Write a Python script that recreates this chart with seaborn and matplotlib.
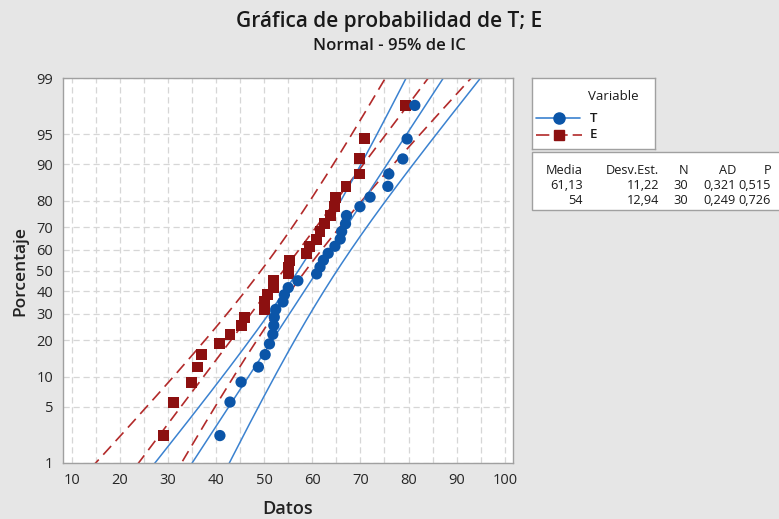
import numpy as np
import pandas as pd
import matplotlib
matplotlib.use("Agg")
import matplotlib.pyplot as plt
from matplotlib.patches import Rectangle
import seaborn as sns
from statistics import NormalDist

# valores (ordenados)
T_vals = [40.8, 42.9, 45.2, 48.8, 50.2, 51.1, 51.8, 52.0, 52.1, 52.4, 53.9, 54.2,
          55.0, 57.0, 60.9, 61.6, 62.3, 63.3, 64.7, 65.8, 66.1, 66.9, 67.1, 69.9,
          72.0, 75.7, 75.9, 78.8, 79.7, 81.3]
E_vals = [29.0, 31.1, 34.9, 36.2, 37.0, 40.8, 42.9, 45.2, 46.0, 50.0, 50.1, 50.6,
          51.9, 52.0, 55.0, 55.1, 55.2, 58.8, 59.5, 60.9, 61.6, 62.5, 63.8, 64.6,
          64.9, 67.0, 69.9, 69.9, 70.9, 79.4]

variables = ["T", "E"]
media = [61.13, 54.0]
desv = [11.22, 12.94]
n_obs = [30, 30]
ad_vals = ["0,321", "0,249"]
p_vals = ["0,515", "0,726"]
media_txt = ["61,13", "54"]
desv_txt = ["11,22", "12,94"]

y_ticks = [1, 5, 10, 20, 30, 40, 50, 60, 70, 80, 90, 95, 99]
x_ticks = [10, 20, 30, 40, 50, 60, 70, 80, 90, 100]

nd = NormalDist()

def zq(p):
    return nd.inv_cdf(p)

rows = []
for var, vals in zip(variables, [T_vals, E_vals]):
    n = len(vals)
    for i, v in enumerate(sorted(vals), start=1):
        rows.append({"Variable": var, "Datos": v, "z": zq((i - 0.3) / (n + 0.4))})
df = pd.DataFrame(rows)

# rectas ajustadas e intervalos de confianza del 95%
pgrid = np.linspace(0.002, 0.998, 300)
zgrid = np.array([zq(p) for p in pgrid])
fit_rows = []
for var, mu, sd, n in zip(variables, media, desv, n_obs):
    se = sd * np.sqrt(1.0 / n + zgrid ** 2 / (2.0 * n))
    xp = mu + zgrid * sd
    for part, xs in [("fit", xp), ("lo", xp - 1.96 * se), ("hi", xp + 1.96 * se)]:
        fit_rows.append(pd.DataFrame({"Variable": var, "parte": part, "Datos": xs, "z": zgrid}))
fits = pd.concat(fit_rows, ignore_index=True)

sns.set_style("white")
plt.rcParams["font.family"] = ["Open Sans", "DejaVu Sans"]

W, H = 779.0, 519.0
bg = "#e6e6e6"
fig = plt.figure(figsize=(7.79, 5.19), dpi=100, facecolor=bg)
ax = fig.add_axes([63 / W, 1 - 463 / H, (513 - 63) / W, (463 - 78) / H])
ax.set_facecolor("white")

blue_pt = "#0b55a8"
blue_ln = "#3b82d0"
red_pt = "#8c1010"
red_ln = "#b22a2a"
red_dash = (0, (7, 4))

for part in ["fit", "lo", "hi"]:
    sub = fits[(fits.Variable == "E") & (fits.parte == part)]
    sns.lineplot(data=sub, x="Datos", y="z", sort=False, ax=ax, color=red_ln,
                 lw=1.2, linestyle=red_dash, zorder=2)
for part in ["fit", "lo", "hi"]:
    sub = fits[(fits.Variable == "T") & (fits.parte == part)]
    sns.lineplot(data=sub, x="Datos", y="z", sort=False, ax=ax, color=blue_ln,
                 lw=1.1, zorder=2)

sns.scatterplot(data=df[df.Variable == "E"], x="Datos", y="z", marker="s", s=62,
                color=red_pt, edgecolor="none", ax=ax, zorder=3)
sns.scatterplot(data=df[df.Variable == "T"], x="Datos", y="z", marker="o", s=66,
                color=blue_pt, edgecolor="none", ax=ax, zorder=4)

ax.set_xlim(8.2, 101.7)
ax.set_ylim(zq(0.01), zq(0.99))
ax.set_xticks(x_ticks)
ax.set_xticks(np.arange(15, 100, 10), minor=True)
ax.set_yticks([zq(t / 100) for t in y_ticks])
ax.set_yticklabels([str(t) for t in y_ticks])
ax.grid(True, which="both", axis="x", color="#d6d6d6", lw=0.9, linestyle=(0, (5, 3)))
ax.grid(True, which="major", axis="y", color="#d6d6d6", lw=0.9, linestyle=(0, (5, 3)))
ax.set_axisbelow(True)
for s in ax.spines.values():
    s.set_color("#a0a0a0")
    s.set_linewidth(1.0)
ax.tick_params(axis="both", which="major", direction="out", length=4, color="#a0a0a0",
               labelsize=10.5, labelcolor="#262626", pad=3)
ax.tick_params(axis="x", which="minor", direction="out", length=3, color="#a0a0a0")
ax.set_xlabel("Datos", fontsize=13, fontweight="semibold", color="#222222", labelpad=9)
ax.set_ylabel("Porcentaje", fontsize=12.5, fontweight="semibold", color="#222222", labelpad=6)

fig.text(0.5, 1 - 22 / H, "Gráfica de probabilidad de T; E", ha="center", va="center",
         fontsize=15, fontweight="semibold", color="#1a1a1a")
fig.text(0.5, 1 - 46 / H, "Normal - 95% de IC", ha="center", va="center",
         fontsize=12, fontweight="semibold", color="#1a1a1a")

# leyenda dibujada a mano en su propio eje
lg = fig.add_axes([532 / W, 1 - 149 / H, (655 - 532) / W, (149 - 78) / H])
lg.set_xlim(532, 655)
lg.set_ylim(149, 78)
lg.set_xticks([])
lg.set_yticks([])
lg.set_facecolor("white")
for s in lg.spines.values():
    s.set_color("#a0a0a0")
    s.set_linewidth(1.0)
lg.text(588, 96, "Variable", ha="left", va="center", fontsize=9.5, color="#1a1a1a")
lg.plot([536, 580], [118, 118], color=blue_ln, lw=1.2)
lg.plot([559], [118], marker="o", markersize=8, color=blue_pt, markeredgecolor=blue_pt)
lg.text(590, 118, "T", ha="left", va="center", fontsize=9.5, fontweight="semibold", color="#1a1a1a")
lg.plot([536, 582], [135, 135], color=red_ln, lw=1.2, linestyle=(0, (8, 3)))
lg.plot([559], [135], marker="s", markersize=7.5, color=red_pt, markeredgecolor=red_pt)
lg.text(590, 135, "E", ha="left", va="center", fontsize=9.5, fontweight="semibold", color="#1a1a1a")

# tabla de estadisticos
fig.patches.append(Rectangle((532 / W, 1 - 210 / H), 260 / W, 58 / H, transform=fig.transFigure,
                             facecolor="white", edgecolor="#a0a0a0", lw=1.0, zorder=1))
col_x = [583, 659, 688, 736, 771]
headers = ["Media", "Desv.Est.", "N", "AD", "P"]
for cx, h in zip(col_x, headers):
    fig.text(cx / W, 1 - 170 / H, h, ha="right", va="center", fontsize=9.2, color="#1a1a1a")
for r, yy in enumerate([186, 201]):
    vals = [media_txt[r], desv_txt[r], str(n_obs[r]), ad_vals[r], p_vals[r]]
    for cx, v in zip(col_x, vals):
        fig.text(cx / W, 1 - yy / H, v, ha="right", va="center", fontsize=9.2, color="#1a1a1a")

fig.savefig("out.png", dpi=100, facecolor=bg)
